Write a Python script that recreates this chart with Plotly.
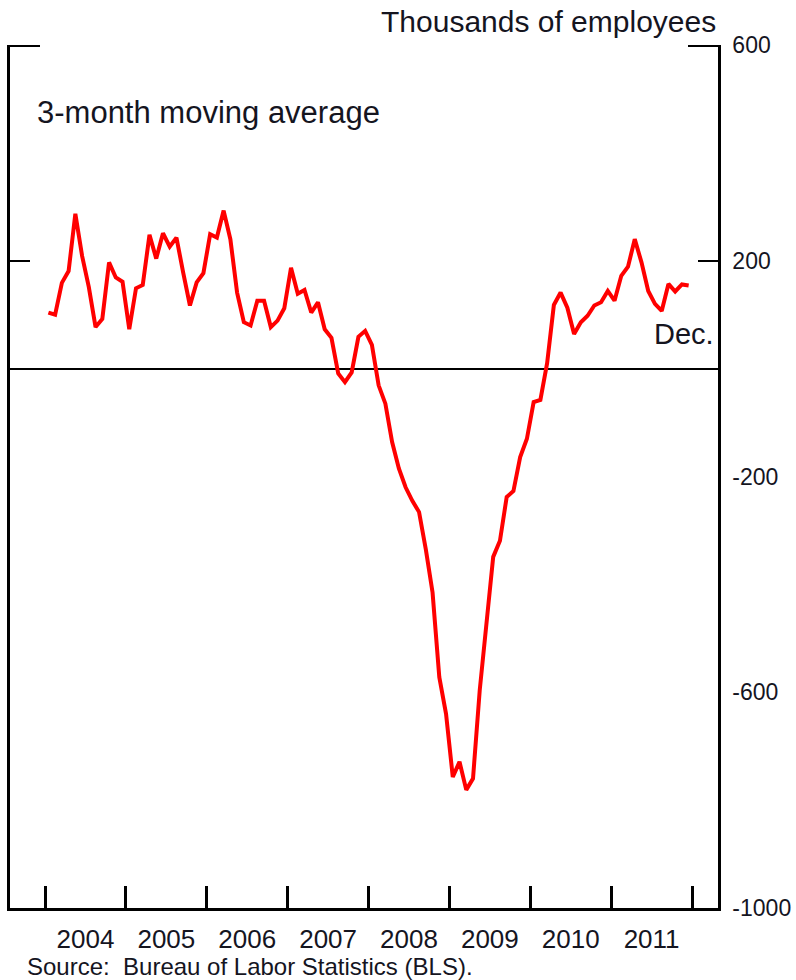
import plotly.graph_objects as go

start_year = 2004
values = [
    104, 100, 159, 181, 287, 209, 151, 77, 92, 197, 169, 161,
    73, 149, 155, 248, 204, 251, 226, 243, 178, 117, 160, 177,
    249, 243, 293, 240, 141, 86, 80, 126, 126, 77, 89, 112,
    187, 139, 146, 104, 123, 73, 57, -9, -25, -7, 59, 70,
    44, -31, -65, -136, -185, -220, -245, -266, -335, -415, -572, -640,
    -757, -729, -781, -760, -596, -479, -349, -319, -238, -227, -164, -130,
    -62, -58, 10, 118, 141, 113, 64, 86, 98, 117, 123, 144,
    126, 172, 189, 240, 197, 144, 120, 107, 157, 143, 156, 154,
]
dates = [start_year + (i + 0.5) / 12 for i in range(len(values))]
years = list(range(2004, 2012))
year_labels = [str(y) for y in years]
year_ticks = list(range(2004, 2013))
y_ticks = [600, 200, -200, -600, -1000]
y_labels = ["600", "200", "-200", "-600", "-1000"]

FONT = "Liberation Sans, Arial, sans-serif"
TXT = "#15151f"

fig = go.Figure()
fig.add_trace(go.Scatter(x=dates, y=values, mode="lines",
                         line=dict(color="#ff0000", width=4),
                         showlegend=False, hoverinfo="skip"))
# invisible helper so the overlay axis (corner ticks) is drawn
fig.add_trace(go.Scatter(x=dates[:1], y=values[:1], mode="markers", yaxis="y2",
                         marker=dict(opacity=0), showlegend=False, hoverinfo="skip"))

fig.update_layout(
    width=796, height=980,
    margin=dict(l=10, r=78, t=45, b=72, autoexpand=False),
    paper_bgcolor="white", plot_bgcolor="white",
    font=dict(family=FONT, color=TXT),
    xaxis=dict(
        range=[2003.567, 2012.321], automargin=False,
        tickvals=[y + 0.5 for y in years], ticktext=year_labels,
        ticks="", showgrid=False, zeroline=False,
        showline=True, linecolor="black", linewidth=3,
        tickfont=dict(size=26, family=FONT, color=TXT),
        ticklabelstandoff=6,
        minor=dict(tickmode="array", tickvals=year_ticks, ticks="inside",
                   ticklen=22, tickwidth=3, tickcolor="black", showgrid=False),
    ),
    yaxis=dict(
        range=[-1000, 600], side="right", automargin=False,
        tickvals=y_ticks, ticktext=y_labels, ticks="",
        showgrid=False, zeroline=True, zerolinecolor="black", zerolinewidth=1.5,
        showline=True, linecolor="black", linewidth=2.5, mirror="ticks",
        tickfont=dict(size=23, family=FONT, color=TXT),
        ticklabelstandoff=7,
        minor=dict(tickmode="array", tickvals=[200], ticks="inside",
                   ticklen=20, tickwidth=2, tickcolor="black", showgrid=False),
    ),
    yaxis2=dict(
        range=[-1000, 600], overlaying="y", side="right", automargin=False,
        tickvals=[597.6], ticks="inside", ticklen=30, tickwidth=2, tickcolor="black",
        showticklabels=False, showgrid=False, zeroline=False,
        showline=False, mirror="ticks",
    ),
)

fig.add_annotation(text="Thousands of employees", xref="paper", yref="paper",
                   x=1.0, y=1.0, xanchor="right", yanchor="bottom", yshift=5,
                   showarrow=False, font=dict(size=30, family=FONT, color=TXT))
fig.add_annotation(text="3-month moving average", xref="paper", yref="paper",
                   x=0.035, y=0.922, xanchor="left", yanchor="middle",
                   showarrow=False, font=dict(size=31, family=FONT, color=TXT))
fig.add_annotation(text="Dec.", xref="paper", yref="paper",
                   x=0.997, y=0.665, xanchor="right", yanchor="middle",
                   showarrow=False, font=dict(size=29, family=FONT, color=TXT))
fig.add_annotation(text="Source:  Bureau of Labor Statistics (BLS).", xref="paper", yref="paper",
                   x=0.021, y=0, xanchor="left", yanchor="middle", yshift=-58,
                   showarrow=False, font=dict(size=24, family=FONT, color=TXT))

fig.write_html("out.html", config={"displayModeBar": False},
               post_script="document.body.style.margin='0';")
